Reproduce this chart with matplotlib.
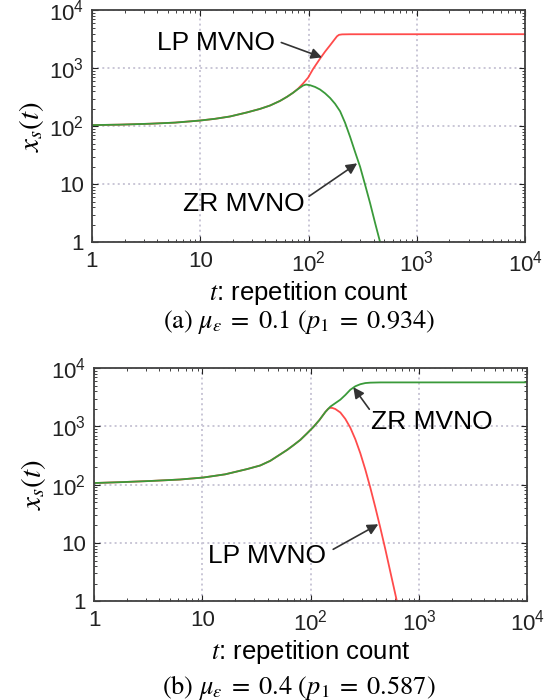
import matplotlib
matplotlib.use("Agg")
import matplotlib.pyplot as plt
from matplotlib.ticker import FixedLocator, FixedFormatter, LogLocator, NullFormatter

plt.rcParams["font.family"] = ["Liberation Sans", "DejaVu Sans"]
plt.rcParams["mathtext.fontset"] = "custom"
plt.rcParams["mathtext.rm"] = "Liberation Sans"
plt.rcParams["mathtext.it"] = "Liberation Sans:italic"

# ---- data ----
# (a) mu_eps = 0.1 : common rise, then the two MVNOs split
a_common_t = [1, 1.81, 3.43, 5.84, 9.95, 13.7, 18.8, 27.0, 35.6, 44.1, 54.5, 63.3, 71.9]
a_common_x = [105, 107, 111, 116, 126, 135, 148, 174, 200, 229, 275, 324, 380]
a_lp_t = a_common_t + [80, 89, 98.9, 110, 127.7, 142, 158, 172, 183, 191, 204, 242, 10000]
a_lp_x = a_common_x + [447, 550, 692, 977, 1479, 1950, 2512, 3090, 3589, 3802, 3870,
                       3890, 3900]
a_zr_t = a_common_t + [80, 89, 94.8, 103.2, 114.8, 127.7, 142, 158, 175.7, 195.5, 217.4,
                       241.7, 268.9, 299.1, 332.6, 370, 411.5, 457.7, 509]
a_zr_x = a_common_x + [442, 507, 527, 513, 479, 432, 372, 309, 245, 182, 115, 66, 36, 20,
                       9.8, 4.7, 2.14, 1.0, 0.47]

# (b) mu_eps = 0.4
b_common_t = [1, 1.81, 3.29, 6.22, 10.15, 16.2, 25.9, 34.1, 42.2, 52.1, 60.7, 69.4, 80.1,
              92.2, 105.5, 120]
b_common_x = [107, 111, 116, 123, 133, 151, 186, 214, 257, 331, 398, 479, 589, 759, 977,
              1288]
b_lp_t = b_common_t + [136.4, 145, 151.4, 158, 168.4, 187.4, 208.3, 231.6, 257.8, 286.6,
                       318.8, 354.5, 394.3, 438.6, 487.8, 542.5, 603.4, 671]
b_lp_x = b_common_x + [1778, 2018, 2089, 2080, 1995, 1738, 1349, 955, 603, 347, 182, 89,
                       41, 18.2, 7.8, 3.2, 1.32, 0.54]
b_zr_t = b_common_t + [136.4, 151.4, 168.4, 187.4, 208.3, 231.6, 257.8, 286.6, 318.8,
                       354.5, 438.6, 10000]
b_zr_x = b_common_x + [1778, 2188, 2512, 2884, 3467, 4266, 4898, 5309, 5559, 5649, 5702,
                       5715]

tick_vals = [1, 10, 100, 1000, 10000]
tick_labels = ["1", "10", "$10^2$", "$10^3$", "$10^4$"]
captions = [r"$\mathrm{(a)}\ \mu_{\varepsilon}\;=\;0.1\ (p_1\;=\;0.934)$",
            r"$\mathrm{(b)}\ \mu_{\varepsilon}\;=\;0.4\ (p_1\;=\;0.587)$"]

RED = "#ff4b4b"
GREEN = "#3a9a3a"
ARROW = "#333333"

fig = plt.figure(figsize=(5.54, 7.0), dpi=100)
ax_a = fig.add_axes([0.166, 0.654, 0.782, 0.331])
ax_b = fig.add_axes([0.170, 0.141, 0.782, 0.333])


def style_axes(ax):
    ax.set_xscale("log")
    ax.set_yscale("log")
    ax.set_xlim(1, 1e4)
    ax.set_ylim(1, 1e4)
    for axis in (ax.xaxis, ax.yaxis):
        axis.set_major_locator(FixedLocator(tick_vals))
        axis.set_major_formatter(FixedFormatter(tick_labels))
        axis.set_minor_locator(LogLocator(base=10, subs=range(2, 10)))
        axis.set_minor_formatter(NullFormatter())
    ax.tick_params(which="both", direction="in", top=True, right=True,
                   labelsize=16, colors="#222222")
    ax.tick_params(which="major", length=4, width=0.8, pad=6)
    ax.tick_params(which="minor", length=2.5, width=0.6)
    ax.grid(True, which="major", color="#c9c6d6", linestyle=":", linewidth=1.4)
    for sp in ax.spines.values():
        sp.set_color("#404040")
        sp.set_linewidth(1.3)
    ax.set_ylabel("$x_s(t)$", fontsize=21, math_fontfamily="stix", labelpad=2)
    ax.set_xlabel("$t$: repetition count", fontsize=18.5, labelpad=2)
    ax.xaxis.label.set_math_fontfamily("stix")


def arrow(ax, head, tail):
    ax.annotate("", xy=head, xytext=tail,
                arrowprops=dict(arrowstyle="-|>", color=ARROW, lw=1.2,
                                mutation_scale=16, shrinkA=0, shrinkB=0))


# (a)
style_axes(ax_a)
ax_a.plot(a_lp_t, a_lp_x, color=RED, lw=1.3)
ax_a.plot(a_zr_t, a_zr_x, color=GREEN, lw=1.3)
ax_a.text(14, 2800, "LP MVNO", fontsize=19, ha="center", va="center")
arrow(ax_a, (133, 1550), (56, 2800))
ax_a.text(25, 4.5, "ZR MVNO", fontsize=19, ha="center", va="center")
arrow(ax_a, (281, 23), (101, 6.2))

# (b)
style_axes(ax_b)
ax_b.plot(b_lp_t, b_lp_x, color=RED, lw=1.3)
ax_b.plot(b_zr_t, b_zr_x, color=GREEN, lw=1.3)
ax_b.text(1300, 1180, "ZR MVNO", fontsize=19, ha="center", va="center")
arrow(ax_b, (247, 4720), (347, 1977))
ax_b.text(39, 5.9, "LP MVNO", fontsize=19, ha="center", va="center")
arrow(ax_b, (420, 21), (161, 7.8))

fig.text(0.54, 1 - 322 / 700, captions[0], fontsize=19, ha="center", va="center",
         math_fontfamily="stix")
fig.text(0.54, 1 - 687 / 700, captions[1], fontsize=19, ha="center", va="center",
         math_fontfamily="stix")

fig.savefig("out.png", dpi=100)
plt.close(fig)
